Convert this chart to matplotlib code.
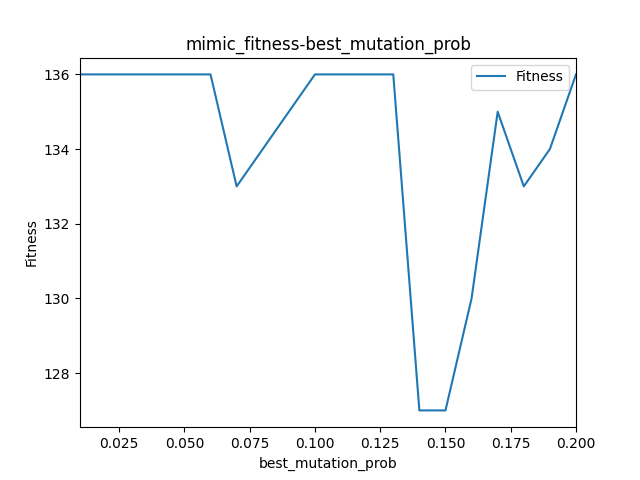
import matplotlib
matplotlib.use("Agg")
import matplotlib.pyplot as plt

x = [0.01,0.02,0.03,0.04,0.05,0.06,0.07,0.08,0.09,0.10,0.11,0.12,0.13,0.14,0.15,0.16,0.17,0.18,0.19,0.20]
fitness = [136,136,136,136,136,136,133,134,135,136,136,136,136,127,127,130,135,133,134,136]

fig, ax = plt.subplots(figsize=(6.4,4.8), dpi=100)
ax.plot(x, fitness, label="Fitness")
ax.set_xlim(min(x), max(x))
ax.set_title("mimic_fitness-best_mutation_prob")
ax.set_xlabel("best_mutation_prob")
ax.set_ylabel("Fitness")
ax.legend(loc="upper right")
fig.savefig("out.png")
